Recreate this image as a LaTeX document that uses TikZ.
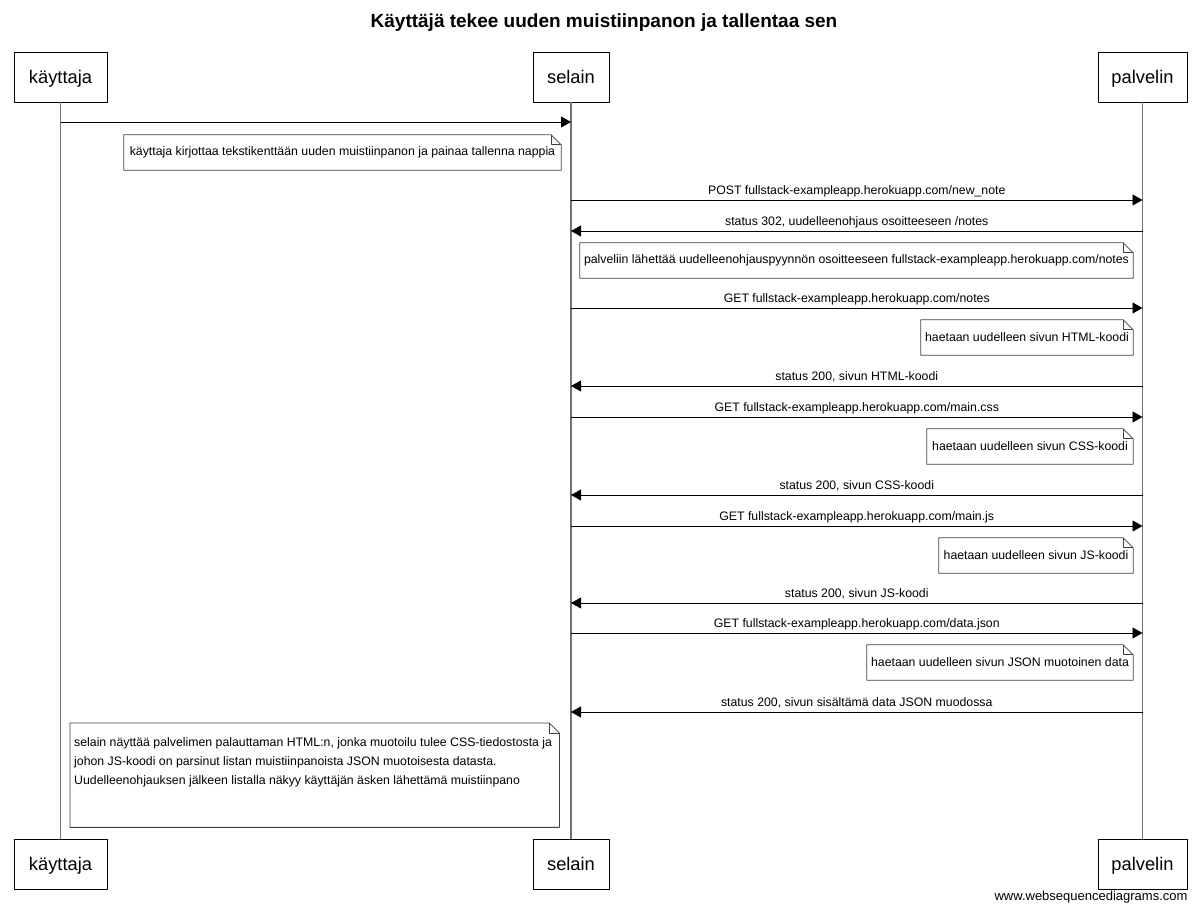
\documentclass[tikz,border=0pt]{standalone}
\usepackage{fontspec}
\setmainfont{Liberation Sans}
\usetikzlibrary{arrows.meta}
\newcommand{\foldnote}[1]{%
  \draw [notebox] (#1.south west) -- (#1.north west) -- ([xshift=-10bp]#1.north east) -- ([yshift=-10bp]#1.north east) -- (#1.south east) -- cycle;
  \draw [notebox] ([xshift=-10bp]#1.north east) |- ([yshift=-10bp]#1.north east);}
\tikzset{
  actor/.style={draw=black,rectangle,line width=0.8bp,fill=white,minimum height=50bp,inner sep=0pt,text height=17bp,text depth=3bp,font=\fontsize{18.3bp}{22bp}\selectfont},
  lifeline/.style={draw=black!55,line width=1.4bp},
  msg/.style={draw=black,line width=0.8bp,->},
  msglabel/.style={font=\fontsize{12.3bp}{14bp}\selectfont,inner sep=0pt,anchor=base,yshift=5bp},
  note/.style={inner sep=0pt,font=\fontsize{12.3bp}{14bp}\selectfont,minimum height=35bp},
  notebox/.style={draw=black!75,line width=0.8bp},
}
\begin{document}
\begin{tikzpicture}[>={Triangle[length=10bp,width=11bp]},line join=bevel]
\useasboundingbox (0bp,0bp) rectangle (1200bp,913bp);
%%
  \node (title) at (604bp,890bp) [font=\bfseries\fontsize{19bp}{22bp}\selectfont] {Käyttäjä tekee uuden muistiinpanon ja tallentaa sen};
  \node (kTop) at (60.5bp,836bp) [actor,minimum width=93bp] {käyttaja};
  \node (sTop) at (571bp,836bp) [actor,minimum width=76bp] {selain};
  \node (pTop) at (1142.5bp,836bp) [actor,minimum width=89bp] {palvelin};
  \node (kBot) at (60.5bp,49bp) [actor,minimum width=93bp] {käyttaja};
  \node (sBot) at (571bp,49bp) [actor,minimum width=76bp] {selain};
  \node (pBot) at (1142.5bp,49bp) [actor,minimum width=89bp] {palvelin};
  \draw [lifeline] (kTop.south) -- (kBot.north);
  \draw [lifeline] (sTop.south) -- (sBot.north);
  \draw [lifeline] (pTop.south) -- (pBot.north);
%
  \coordinate (m1) at (0bp,791bp);
  \coordinate (m2) at (0bp,713bp);
  \coordinate (m3) at (0bp,682bp);
  \coordinate (m4) at (0bp,605bp);
  \coordinate (m5) at (0bp,527bp);
  \coordinate (m6) at (0bp,496bp);
  \coordinate (m7) at (0bp,418bp);
  \coordinate (m8) at (0bp,387bp);
  \coordinate (m9) at (0bp,310bp);
  \coordinate (m10) at (0bp,280bp);
  \coordinate (m11) at (0bp,201bp);
  \draw [msg] (kTop |- m1) -- (sTop |- m1);
  \draw [msg] (sTop |- m2) -- node [msglabel] {POST fullstack-exampleapp.herokuapp.com/new\_note} (pTop |- m2);
  \draw [msg] (pTop |- m3) -- node [msglabel] {status 302, uudelleenohjaus osoitteeseen /notes} (sTop |- m3);
  \draw [msg] (sTop |- m4) -- node [msglabel] {GET fullstack-exampleapp.herokuapp.com/notes} (pTop |- m4);
  \draw [msg] (pTop |- m5) -- node [msglabel] {status 200, sivun HTML-koodi} (sTop |- m5);
  \draw [msg] (sTop |- m6) -- node [msglabel] {GET fullstack-exampleapp.herokuapp.com/main.css} (pTop |- m6);
  \draw [msg] (pTop |- m7) -- node [msglabel] {status 200, sivun CSS-koodi} (sTop |- m7);
  \draw [msg] (sTop |- m8) -- node [msglabel] {GET fullstack-exampleapp.herokuapp.com/main.js} (pTop |- m8);
  \draw [msg] (pTop |- m9) -- node [msglabel] {status 200, sivun JS-koodi} (sTop |- m9);
  \draw [msg] (sTop |- m10) -- node [msglabel] {GET fullstack-exampleapp.herokuapp.com/data.json} (pTop |- m10);
  \draw [msg] (pTop |- m11) -- node [msglabel] {status 200, sivun sisältämä data JSON muodossa} (sTop |- m11);
%
  \node (n1) at (342.5bp,760.5bp) [note,minimum width=437bp] {käyttaja kirjottaa tekstikenttään uuden muistiinpanon ja painaa tallenna nappia};
  \foldnote{n1}
  \node (n2) at (856.5bp,652.5bp) [note,minimum width=553bp] {palveliin lähettää uudelleenohjauspyynnön osoitteeseen fullstack-exampleapp.herokuapp.com/notes};
  \foldnote{n2}
  \node (n3) at (1027bp,575.5bp) [note,minimum width=212bp] {haetaan uudelleen sivun HTML-koodi};
  \foldnote{n3}
  \node (n4) at (1030bp,466.5bp) [note,minimum width=206bp] {haetaan uudelleen sivun CSS-koodi};
  \foldnote{n4}
  \node (n5) at (1036bp,357.5bp) [note,minimum width=194bp] {haetaan uudelleen sivun JS-koodi};
  \foldnote{n5}
  \node (n6) at (1000bp,250.5bp) [note,minimum width=266bp] {haetaan uudelleen sivun JSON muotoinen data};
  \foldnote{n6}
  \node (n7) at (70bp,190bp) [note,anchor=north west] {\parbox[c][104bp][t]{489bp}{\fontsize{12.3bp}{19bp}\selectfont\leftskip=4bp\rule{0pt}{23bp}\mbox{selain näyttää palvelimen palauttaman HTML:n, jonka muotoilu tulee CSS-tiedostosta ja}\\\mbox{johon JS-koodi on parsinut listan muistiinpanoista JSON muotoisesta datasta.}\\\mbox{Uudelleenohjauksen jälkeen listalla näkyy käyttäjän äsken lähettämä muistiinpano}}};
  \foldnote{n7}
%
  \node (wsd) at (1191bp,16bp) [anchor=east,font=\fontsize{13bp}{15bp}\selectfont] {www.websequencediagrams.com};
%
\end{tikzpicture}
\end{document}
